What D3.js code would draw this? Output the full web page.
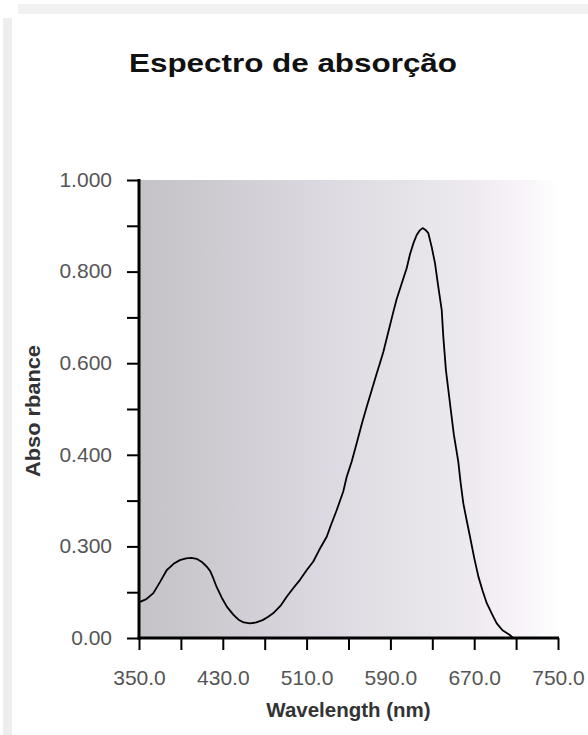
<!DOCTYPE html>
<html>
<head>
<meta charset="utf-8">
<script src="https://cdn.jsdelivr.net/npm/d3@7/dist/d3.min.js"></script>
<style>
  html, body { margin: 0; padding: 0; background: #ffffff; }
  svg { display: block; }
</style>
</head>
<body>
<svg id="chart" width="588" height="735"></svg>
<script>
// ---- data ----
const wavelength = [351, 357, 363.7, 370, 376.4, 383, 389, 395, 400, 405, 410, 415, 418, 421, 424, 429, 434, 440, 445, 450, 456, 462, 468, 473, 478, 485, 491, 497, 503.7, 510, 516.4, 522, 529.2, 533, 538.7, 545, 548.3, 553, 557.8, 563, 567.4, 572, 577, 580, 583.3, 588, 592.8, 596, 600.8, 605.6, 608.7, 612, 615.1, 618, 620.8, 623.5, 626.2, 629.4, 632.6, 635.7, 639, 640.5, 643, 646.9, 650.5, 654.8, 657, 659.6, 663, 666, 670, 674, 678, 682, 687, 691.5, 697, 704, 707];
const absorbance = [0.079, 0.085, 0.098, 0.122, 0.148, 0.162, 0.170, 0.174, 0.175, 0.173, 0.166, 0.155, 0.146, 0.130, 0.112, 0.088, 0.068, 0.051, 0.040, 0.034, 0.032, 0.034, 0.039, 0.046, 0.054, 0.070, 0.090, 0.108, 0.127, 0.148, 0.167, 0.192, 0.221, 0.245, 0.279, 0.320, 0.352, 0.385, 0.425, 0.470, 0.505, 0.540, 0.578, 0.600, 0.625, 0.668, 0.712, 0.740, 0.774, 0.808, 0.838, 0.862, 0.880, 0.890, 0.895, 0.891, 0.884, 0.854, 0.818, 0.767, 0.716, 0.658, 0.585, 0.512, 0.445, 0.385, 0.340, 0.294, 0.255, 0.221, 0.175, 0.134, 0.103, 0.076, 0.052, 0.032, 0.017, 0.0066, 0.0];

const xTickValues = [350, 390, 430, 470, 510, 550, 590, 630, 670, 710, 750];
const xLabelValues = [350, 430, 510, 590, 670, 750];
const yTickValues = [0, 0.1, 0.2, 0.3, 0.4, 0.5, 0.6, 0.7, 0.8, 0.9, 1.0];
const yLabelValues = [0, 0.2, 0.4, 0.6, 0.8, 1.0];
const yLabelTexts = ["0.00", "0.300", "0.400", "0.600", "0.800", "1.000"];

const titleText = "Espectro de absorção";
const xTitle = "Wavelength (nm)";
const yTitle = "Abso rbance";

// ---- drawing ----
const svg = d3.select("#chart");
const font = "'Liberation Sans', Arial, Helvetica, sans-serif";

// faint page border bands
svg.append("rect").attr("x", 18).attr("y", 4).attr("width", 570).attr("height", 10).attr("fill", "#f1f1f1");
svg.append("rect").attr("x", 3).attr("y", 18).attr("width", 9).attr("height", 717).attr("fill", "#eeeeee");

const x = d3.scaleLinear().domain([350, 750]).range([139, 558]);
const y = d3.scaleLinear().domain([0, 1]).range([638, 180]);

// plot background gradient
const defs = svg.append("defs");
const grad = defs.append("linearGradient").attr("id", "bg").attr("x1", "0%").attr("x2", "100%").attr("y1", "0%").attr("y2", "0%");
[["0%", "#c5c3c8"], ["12%", "#cac7cd"], ["30%", "#d5d1d9"], ["45%", "#ddd9e2"], ["62%", "#e4e2e7"], ["80%", "#eeeaf0"], ["92%", "#f8f4f9"], ["100%", "#ffffff"]]
  .forEach(([o, c]) => grad.append("stop").attr("offset", o).attr("stop-color", c));

svg.append("rect")
  .attr("x", x(350)).attr("y", y(1))
  .attr("width", x(750) - x(350)).attr("height", y(0) - y(1))
  .attr("fill", "url(#bg)");

// curve
const line = d3.line().x((d, i) => x(wavelength[i])).y(d => y(d)).curve(d3.curveLinear);
svg.append("path")
  .datum(absorbance)
  .attr("d", line)
  .attr("fill", "none")
  .attr("stroke", "#000")
  .attr("stroke-width", 1.8)
  .attr("stroke-linejoin", "round");

// x axis
const xAxis = d3.axisBottom(x)
  .tickValues(xTickValues)
  .tickSize(12)
  .tickPadding(20)
  .tickFormat(d => xLabelValues.includes(d) ? d3.format(".1f")(d) : "");
const gx = svg.append("g").attr("transform", `translate(0,${y(0)})`).call(xAxis);
gx.select(".domain").remove();
gx.selectAll(".tick line").attr("stroke", "#000").attr("stroke-width", 2);
gx.selectAll(".tick text").attr("font-family", font).attr("font-size", 21).attr("fill", "#555");

// y axis
const yAxis = d3.axisLeft(y)
  .tickValues(yTickValues)
  .tickSize(12)
  .tickPadding(15)
  .tickFormat(d => {
    const i = yLabelValues.findIndex(v => Math.abs(v - d) < 1e-9);
    return i >= 0 ? yLabelTexts[i] : "";
  });
const gy = svg.append("g").attr("transform", `translate(${x(350)},0)`).call(yAxis);
gy.select(".domain").remove();
gy.selectAll(".tick line").attr("stroke", "#000").attr("stroke-width", 2);
gy.selectAll(".tick text").attr("font-family", font).attr("font-size", 21).attr("fill", "#555").attr("dy", "0.3em");

// axis lines
svg.append("line").attr("x1", x(350)).attr("x2", x(350)).attr("y1", y(1) - 1).attr("y2", y(0) + 1.5)
  .attr("stroke", "#000").attr("stroke-width", 3);
svg.append("line").attr("x1", x(350) - 1.5).attr("x2", x(750) + 1).attr("y1", y(0)).attr("y2", y(0))
  .attr("stroke", "#000").attr("stroke-width", 3);

// titles
svg.append("text")
  .attr("x", 129).attr("y", 72)
  .attr("font-family", font).attr("font-size", 25).attr("font-weight", "bold")
  .attr("fill", "#111")
  .attr("textLength", 328).attr("lengthAdjust", "spacingAndGlyphs")
  .text(titleText);

svg.append("text")
  .attr("x", (x(350) + x(750)) / 2).attr("y", 717)
  .attr("text-anchor", "middle")
  .attr("font-family", font).attr("font-size", 20.5).attr("font-weight", "bold")
  .attr("fill", "#333")
  .text(xTitle);

svg.append("text")
  .attr("transform", `translate(40,${(y(0) + y(1)) / 2 + 2}) rotate(-90)`)
  .attr("text-anchor", "middle")
  .attr("font-family", font).attr("font-size", 20).attr("font-weight", "bold")
  .attr("fill", "#333")
  .attr("textLength", 132).attr("lengthAdjust", "spacingAndGlyphs")
  .text(yTitle);
</script>
</body>
</html>
